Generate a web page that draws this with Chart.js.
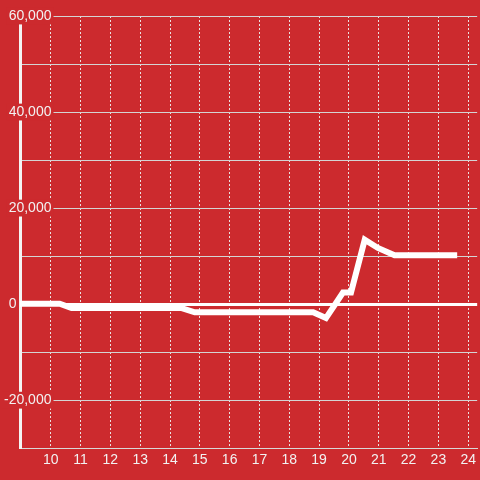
<!DOCTYPE html>
<html>
<head>
<meta charset="utf-8">
<script src="https://cdn.jsdelivr.net/npm/chart.js@4"></script>
<style>
  html, body { margin: 0; padding: 0; background: #cc2a2e; }
  #wrap { width: 480px; height: 480px; position: relative; }
  canvas { display: block; }
</style>
</head>
<body>
<div id="wrap"><canvas id="c" width="480" height="480"></canvas></div>
<script>
// Data
const hours  = [8.97, 10.3, 10.7, 14.37, 14.83, 18.8, 19.23, 19.8, 20.07, 20.53, 20.97, 21.53, 23.63];
const values = [100, 100, -800, -800, -1700, -1700, -2900, 2400, 2400, 13400, 11700, 10200, 10200];
const xTickLabels = [10, 11, 12, 13, 14, 15, 16, 17, 18, 19, 20, 21, 22, 23, 24];
const yLabelledTicks = [-20000, 0, 20000, 40000, 60000];

const BG = '#cc2a2e';
const points = hours.map((h, i) => ({ x: h, y: values[i] }));

function yLabel(v) {
  if (!yLabelledTicks.includes(v)) return '';
  if (v === 0) return '0' + ' '.repeat(9); // the zero label sits left of the axis
  return v.toLocaleString('en-US');
}

new Chart(document.getElementById('c'), {
  type: 'line',
  data: {
    datasets: [{
      data: points,
      borderColor: '#ffffff',
      borderWidth: 6,
      pointRadius: 0,
      tension: 0,
      fill: false,
      borderJoinStyle: 'miter'
    }]
  },
  options: {
    responsive: false,
    animation: false,
    layout: { padding: { left: 20, top: 16, right: 0, bottom: 7 } },
    plugins: { legend: { display: false }, tooltip: { enabled: false } },
    scales: {
      x: {
        type: 'linear',
        min: 8.97,
        max: 24.3,
        grid: {
          color: 'rgba(235,235,235,0.95)',
          lineWidth: 1,
          drawTicks: false
        },
        border: { display: true, color: '#d8d8d8', width: 1, dash: [2, 2] },
        ticks: {
          stepSize: 1,
          includeBounds: false,
          autoSkip: false,
          maxRotation: 0,
          padding: 4,
          color: '#f2f2f2',
          font: { family: 'Liberation Sans, Arial, sans-serif', size: 14 },
          callback: (v) => xTickLabels.includes(v) ? String(v) : ''
        }
      },
      y: {
        type: 'linear',
        position: 'left',
        min: -30000,
        max: 60000,
        afterFit: (scale) => { scale.width = 0; },
        grid: {
          drawTicks: false,
          color: (ctx) => ctx.tick && ctx.tick.value === 0 ? '#ffffff' : '#d4d4d4',
          lineWidth: (ctx) => ctx.tick && ctx.tick.value === 0 ? 3 : 1
        },
        border: { display: true, color: '#f4f4f4', width: 3 },
        ticks: {
          stepSize: 10000,
          mirror: true,
          crossAlign: 'far',
          padding: -16,
          color: '#f2f2f2',
          font: { family: 'Liberation Sans, Arial, sans-serif', size: 14 },
          showLabelBackdrop: (ctx) => ctx.tick.value !== 0 && yLabelledTicks.includes(ctx.tick.value),
          backdropColor: BG,
          backdropPadding: { top: 0, bottom: 0, left: 2, right: 2 },
          callback: (v) => yLabel(v)
        }
      }
    }
  }
});
</script>
</body>
</html>
